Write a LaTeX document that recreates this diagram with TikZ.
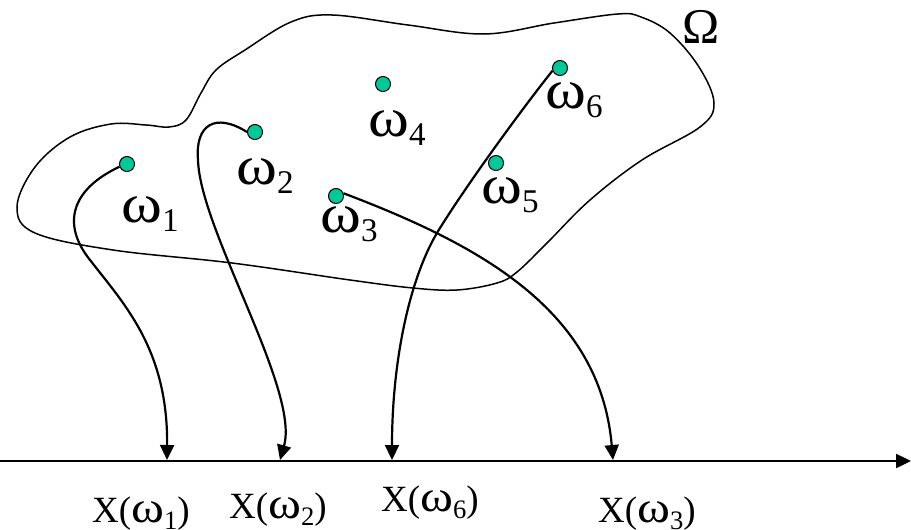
\documentclass[tikz,border=0pt]{standalone}
\usepackage{fontspec}
\setmainfont{Liberation Serif}
\usepackage{graphicx}
\usepackage{tikz}
\usetikzlibrary{arrows.meta}
\definecolor{verde}{HTML}{00C896}
\newcommand{\grande}{\fontsize{46}{52}\selectfont}
\newcommand{\piccolo}{\fontsize{37}{42}\selectfont}
\newcommand{\om}{\scalebox{1.35}[1.2]{ω}}
\newcommand{\ped}[1]{\raisebox{-0.2em}{\scalebox{0.72}{#1}}}

\begin{document}
\begin{tikzpicture}[x=1pt,y=-1pt,>={Triangle[length=15pt,width=14pt]},
  punto/.style={circle,draw,fill=verde,line width=1pt,minimum size=15pt,inner sep=0pt},
  etic/.style={anchor=base west,inner sep=0pt,font=\grande},
  valore/.style={anchor=base west,inner sep=0pt,font=\piccolo},
  freccia/.style={->,line width=2.2pt}]
  \useasboundingbox (0,0) rectangle (911,530);
  % insieme Omega
  \draw[line width=1.5pt] plot[smooth cycle,tension=0.6] coordinates {
    (17,207) (35,167) (70,137) (111,124) (146,125) (169,127) (186,120)
    (201,93) (216,70) (245,50) (291,22) (332,15) (408,25) (484,34)
    (554,23) (618,14) (641,17) (670,33) (699,67) (714,103) (700,127)
    (642,160) (590,200) (547,243) (517,272) (497,283) (457,290)
    (413,288) (350,280) (232,263) (113,250) (35,233)};
  \node[inner sep=0pt,font=\fontsize{50}{56}\selectfont,anchor=base] (om) at (701,43) {Ω};
  % punti
  \node[punto] (w1) at (127,164) {};
  \node[punto] (w2) at (255,132) {};
  \node[punto] (w3) at (336,196) {};
  \node[punto] (w4) at (383,84) {};
  \node[punto] (w5) at (496,163) {};
  \node[punto] (w6) at (560,68) {};
  \node[etic] (l1) at (121,222) {\om\ped{1}};
  \node[etic] (l2) at (236,184) {\om\ped{2}};
  \node[etic] (l3) at (320,232) {\om\ped{3}};
  \node[etic] (l4) at (368,136) {\om\ped{4}};
  \node[etic] (l5) at (481,203) {\om\ped{5}};
  \node[etic] (l6) at (545,108) {\om\ped{6}};
  % asse
  \coordinate (a0) at (0,461);
  \coordinate (a1) at (911,461);
  \draw[->,line width=2.4pt] (a0) -- (a1);
  \coordinate (p1) at (167,460);
  \coordinate (p2) at (280,460);
  \coordinate (p6) at (392,460);
  \coordinate (p3) at (613,460);
  % frecce
  \draw[freccia] (w1.200) .. controls (70,190) and (62,225) .. (90,260)
    .. controls (125,305) and (168,350) .. (p1);
  \draw[freccia] (w2.180) .. controls (215,112) and (195,125) .. (198,160)
    .. controls (200,230) and (300,390) .. (p2);
  \draw[freccia] (w6.200) .. controls (525,105) and (470,180) .. (440,228)
    .. controls (410,275) and (392,360) .. (p6);
  \draw[freccia] (w3.20) .. controls (480,245) and (600,310) .. (p3);
  % valori
  \node[valore] (x1) at (92,522) {X(\om\ped{1})};
  \node[valore] (x2) at (229,518) {X(\om\ped{2})};
  \node[valore] (x6) at (381,511) {X(\om\ped{6})};
  \node[valore] (x3) at (598,522) {X(\om\ped{3})};
\end{tikzpicture}
\end{document}
